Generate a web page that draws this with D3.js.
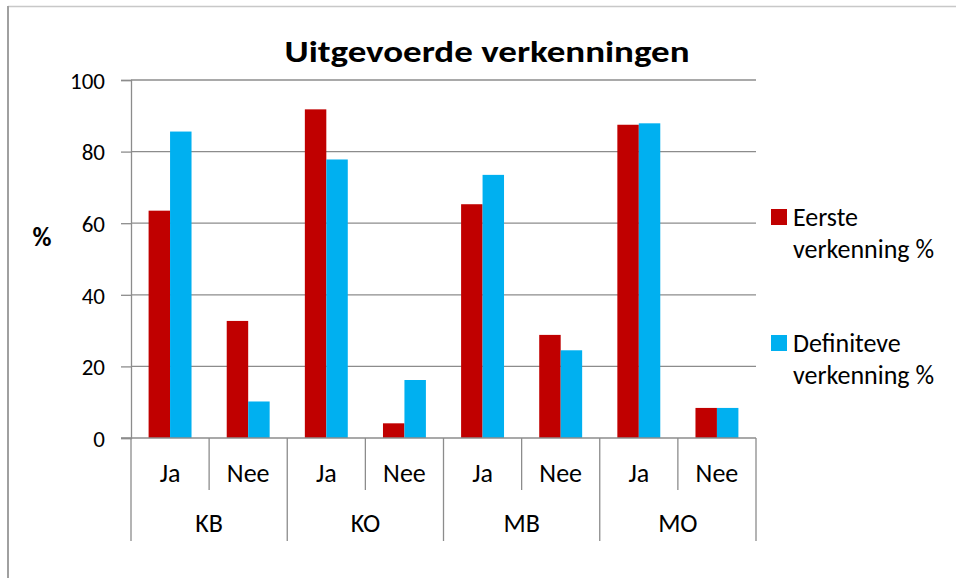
<!DOCTYPE html>
<html>
<head>
<meta charset="utf-8">
<script src="https://cdn.jsdelivr.net/npm/d3@7"></script>
<style>
  body { margin: 0; background: #fff; }
  svg text { font-family: Carlito, Calibri, Lato, sans-serif; fill: #000; }
</style>
</head>
<body>
<svg id="chart"></svg>
<script>
// data
const groups = ["KB", "KO", "MB", "MO"];
const answers = ["Ja", "Nee"];
const seriesNames = ["Eerste verkenning %", "Definiteve verkenning %"];
const eerste = [63.5, 32.7, 91.8, 4.1, 65.3, 28.8, 87.5, 8.4];
const definitief = [85.6, 10.2, 77.8, 16.2, 73.5, 24.5, 87.9, 8.4];
const yTicks = [0, 20, 40, 60, 80, 100];
const colors = ["#C00000", "#00B0F0"];

const W = 956, H = 578;
const margin = {top: 80, right: 200, bottom: 140, left: 131};
const width = 756 - margin.left,
      height = 438 - margin.top;

const svg = d3.select("#chart")
    .attr("width", W)
    .attr("height", H);

// outer chart frame (only top and left edges are in view)
svg.append("line").attr("x1", 8).attr("x2", W).attr("y1", 6.5).attr("y2", 6.5)
    .attr("stroke", "#c8c8c8").attr("stroke-width", 1.5);
svg.append("line").attr("x1", 8).attr("x2", 8).attr("y1", 6).attr("y2", H)
    .attr("stroke", "#a0a0a0").attr("stroke-width", 2);

const g = svg.append("g")
    .attr("transform", `translate(${margin.left},${margin.top})`);

// flat list of categories: KB-Ja, KB-Nee, ...
const cats = groups.flatMap(gr => answers.map(a => gr + "|" + a));

const x = d3.scaleBand()
    .domain(cats)
    .range([0, width]);

const inner = d3.scaleBand()
    .domain([0, 1])
    .range([0, x.bandwidth()])
    .paddingOuter(0.82)
    .paddingInner(0);

const y = d3.scaleLinear()
    .domain([0, 100])
    .range([height, 0]);

// gridlines
g.append("g")
    .selectAll("line")
    .data(yTicks.filter(d => d > 0))
    .join("line")
    .attr("x1", 0).attr("x2", width)
    .attr("y1", d => y(d)).attr("y2", d => y(d))
    .attr("stroke", "#8c8c8c").attr("stroke-width", 1.3);

// y axis
const yAxis = g.append("g")
    .call(d3.axisLeft(y).tickValues(yTicks).tickSize(10).tickPadding(16));
yAxis.select(".domain").attr("stroke", "#8c8c8c").attr("stroke-width", 1.3);
yAxis.selectAll(".tick line").attr("stroke", "#8c8c8c").attr("stroke-width", 1.3);
yAxis.selectAll(".tick text")
    .style("font-size", "23px")
    .attr("dy", "0.36em");

// bars
const rows = cats.map((c, i) => ({cat: c, vals: [eerste[i], definitief[i]]}));
g.append("g")
    .selectAll("g")
    .data(rows)
    .join("g")
    .attr("transform", d => `translate(${x(d.cat)},0)`)
    .selectAll("rect")
    .data(d => d.vals.map((v, k) => ({k, v})))
    .join("rect")
    .attr("x", d => inner(d.k))
    .attr("width", inner.bandwidth())
    .attr("y", d => y(d.v))
    .attr("height", d => y(0) - y(d.v))
    .attr("fill", d => colors[d.k]);

// x axis line
g.append("line")
    .attr("x1", -10).attr("x2", width)
    .attr("y1", height).attr("y2", height)
    .attr("stroke", "#8c8c8c").attr("stroke-width", 1.3);

// category separators: short between answers, long between groups
const bounds = d3.range(cats.length + 1);
g.append("g")
    .selectAll("line")
    .data(bounds)
    .join("line")
    .attr("x1", i => i * x.step())
    .attr("x2", i => i * x.step())
    .attr("y1", height)
    .attr("y2", i => i % 2 === 0 ? height + 103 : height + 52)
    .attr("stroke", "#8c8c8c").attr("stroke-width", 1.3);

// answer labels
g.append("g")
    .selectAll("text")
    .data(cats)
    .join("text")
    .attr("x", d => x(d) + x.bandwidth() / 2)
    .attr("y", height + 44)
    .attr("text-anchor", "middle")
    .style("font-size", "26px")
    .text(d => d.split("|")[1]);

// group labels
g.append("g")
    .selectAll("text")
    .data(groups)
    .join("text")
    .attr("x", (d, i) => (i * 2 + 1) * x.step())
    .attr("y", height + 94)
    .attr("text-anchor", "middle")
    .style("font-size", "26px")
    .text(d => d);

// y title
svg.append("text")
    .attr("x", 42)
    .attr("y", 246)
    .attr("text-anchor", "middle")
    .style("font-size", "26px")
    .style("font-weight", "bold")
    .text("%");

// title
svg.append("text")
    .attr("x", 487)
    .attr("y", 62)
    .attr("text-anchor", "middle")
    .attr("textLength", 405)
    .attr("lengthAdjust", "spacingAndGlyphs")
    .style("font-size", "31px")
    .style("font-weight", "bold")
    .text("Uitgevoerde verkenningen");

// legend
const legend = svg.append("g")
    .selectAll("g")
    .data(seriesNames)
    .join("g")
    .attr("transform", (d, i) => `translate(771,${209 + i * 126})`);

legend.append("rect")
    .attr("width", 16).attr("height", 16)
    .attr("fill", (d, i) => colors[i]);

legend.append("text")
    .attr("x", 22)
    .attr("y", 17)
    .style("font-size", "26px")
    .selectAll("tspan")
    .data(d => [d.split(" ")[0], d.split(" ").slice(1).join(" ")])
    .join("tspan")
    .attr("x", 22)
    .attr("dy", (d, i) => i === 0 ? 0 : 32)
    .text(d => d);
</script>
</body>
</html>
